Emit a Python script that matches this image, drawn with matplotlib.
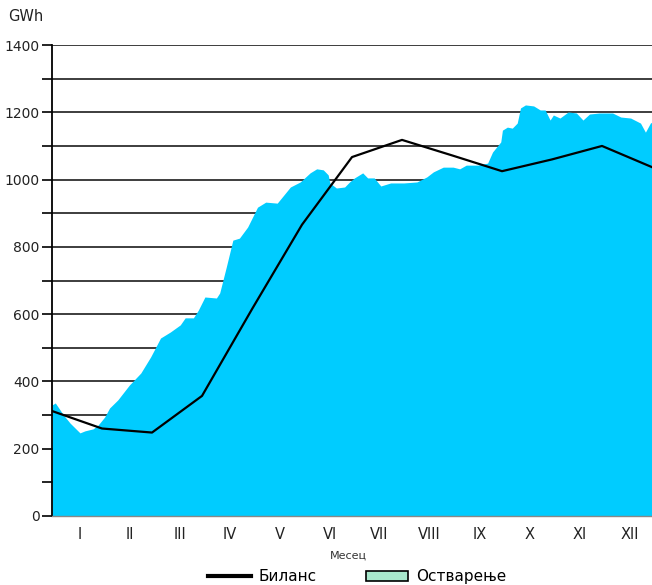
import matplotlib
matplotlib.use("Agg")
import matplotlib.pyplot as plt
from matplotlib.lines import Line2D
from matplotlib.patches import Patch
import numpy as np

# ---- data ----
months = ["I", "II", "III", "IV", "V", "VI", "VII", "VIII", "IX", "X", "XI", "XII"]
# Plan ("Биланс"), value at month boundaries (start of Jan ... end of Dec), GWh
plan_gwh = [312, 260, 248, 357, 615, 866, 1067, 1118, 1072, 1025, 1060, 1100, 1037]
# Realisation ("Остварење"), day of year and GWh
actual_day = [0, 2, 7, 11, 17, 20, 25, 28, 32, 35, 40, 47, 54, 60, 66, 72, 78, 81, 86, 89,
              93, 100, 102, 106, 110, 114, 119, 125, 130, 137, 140, 145, 151, 157, 161, 165,
              168, 169, 173, 178, 181, 184, 189, 192, 196, 200, 206, 214, 222, 228, 232,
              238, 244, 248, 252, 259, 265, 268, 273, 274, 277, 280, 283, 285, 288, 293,
              297, 300, 303, 305, 309, 314, 319, 323, 327, 333, 341, 346, 352, 358, 361,
              364, 365]
actual_gwh = [330, 336, 300, 276, 247, 253, 259, 270, 294, 321, 345, 389, 425, 473, 529, 547,
              568, 589, 589, 612, 651, 648, 663, 740, 820, 826, 859, 918, 933, 930, 948, 978,
              993, 1020, 1032, 1029, 1014, 990, 975, 978, 993, 1005, 1020, 1005, 1005, 981,
              990, 990, 993, 1008, 1023, 1037, 1037, 1032, 1043, 1043, 1049, 1082, 1112,
              1147, 1156, 1153, 1168, 1213, 1222, 1219, 1207, 1207, 1177, 1192, 1183, 1201,
              1198, 1177, 1195, 1198, 1198, 1186, 1183, 1168, 1141, 1168, 1171]

# ---- figure ----
fig = plt.figure(figsize=(6.52, 5.85), dpi=100)
ax = fig.add_axes([0.0798, 0.118, 0.9202, 0.805])

x_actual = np.array(actual_day) / 365.0 * 12
x_plan = np.arange(len(plan_gwh))

ax.fill_between(x_actual, 0, actual_gwh, color="#00CCFF", linewidth=0, zorder=2)
ax.plot(x_plan, plan_gwh, color="black", linewidth=1.6, zorder=3)

ax.set_xlim(0, 12)
ax.set_ylim(0, 1400)

ax.set_yticks(np.arange(0, 1401, 200))
ax.set_yticks(np.arange(100, 1400, 200), minor=True)
ax.tick_params(axis="y", which="both", direction="out", length=7, width=1.2,
               labelsize=10, colors="black", pad=2)
for lab in ax.get_yticklabels():
    lab.set_color("#222222")
ax.grid(axis="y", which="both", color="#2e2e2e", linewidth=1.3, zorder=1)
ax.set_axisbelow(True)

ax.set_xticks(np.arange(12) + 0.55)
ax.set_xticklabels(months, fontsize=10.5, color="#222222")
ax.tick_params(axis="x", length=0, pad=8)

for s in ["top", "right"]:
    ax.spines[s].set_visible(False)
ax.spines["left"].set_linewidth(1.3)
ax.spines["bottom"].set_color("#888888")
ax.spines["bottom"].set_linewidth(1.0)

fig.text(0.012, 0.972, "GWh", fontsize=10.5, color="#222222", ha="left", va="center")
fig.text(0.535, 0.051, "Месец", fontsize=8, color="#333333", ha="center", va="center")

handles = [Line2D([0], [0], color="black", linewidth=3),
           Patch(facecolor="#a8e8cc", edgecolor="black", linewidth=1.2)]
fig.legend(handles, ["Биланс", "Остварење"], loc="center", bbox_to_anchor=(0.548, 0.014),
           ncol=2, frameon=False, fontsize=11, handlelength=2.8, handleheight=0.6,
           columnspacing=3.2, handletextpad=0.5, borderpad=0)

fig.savefig("out.png", dpi=100)
